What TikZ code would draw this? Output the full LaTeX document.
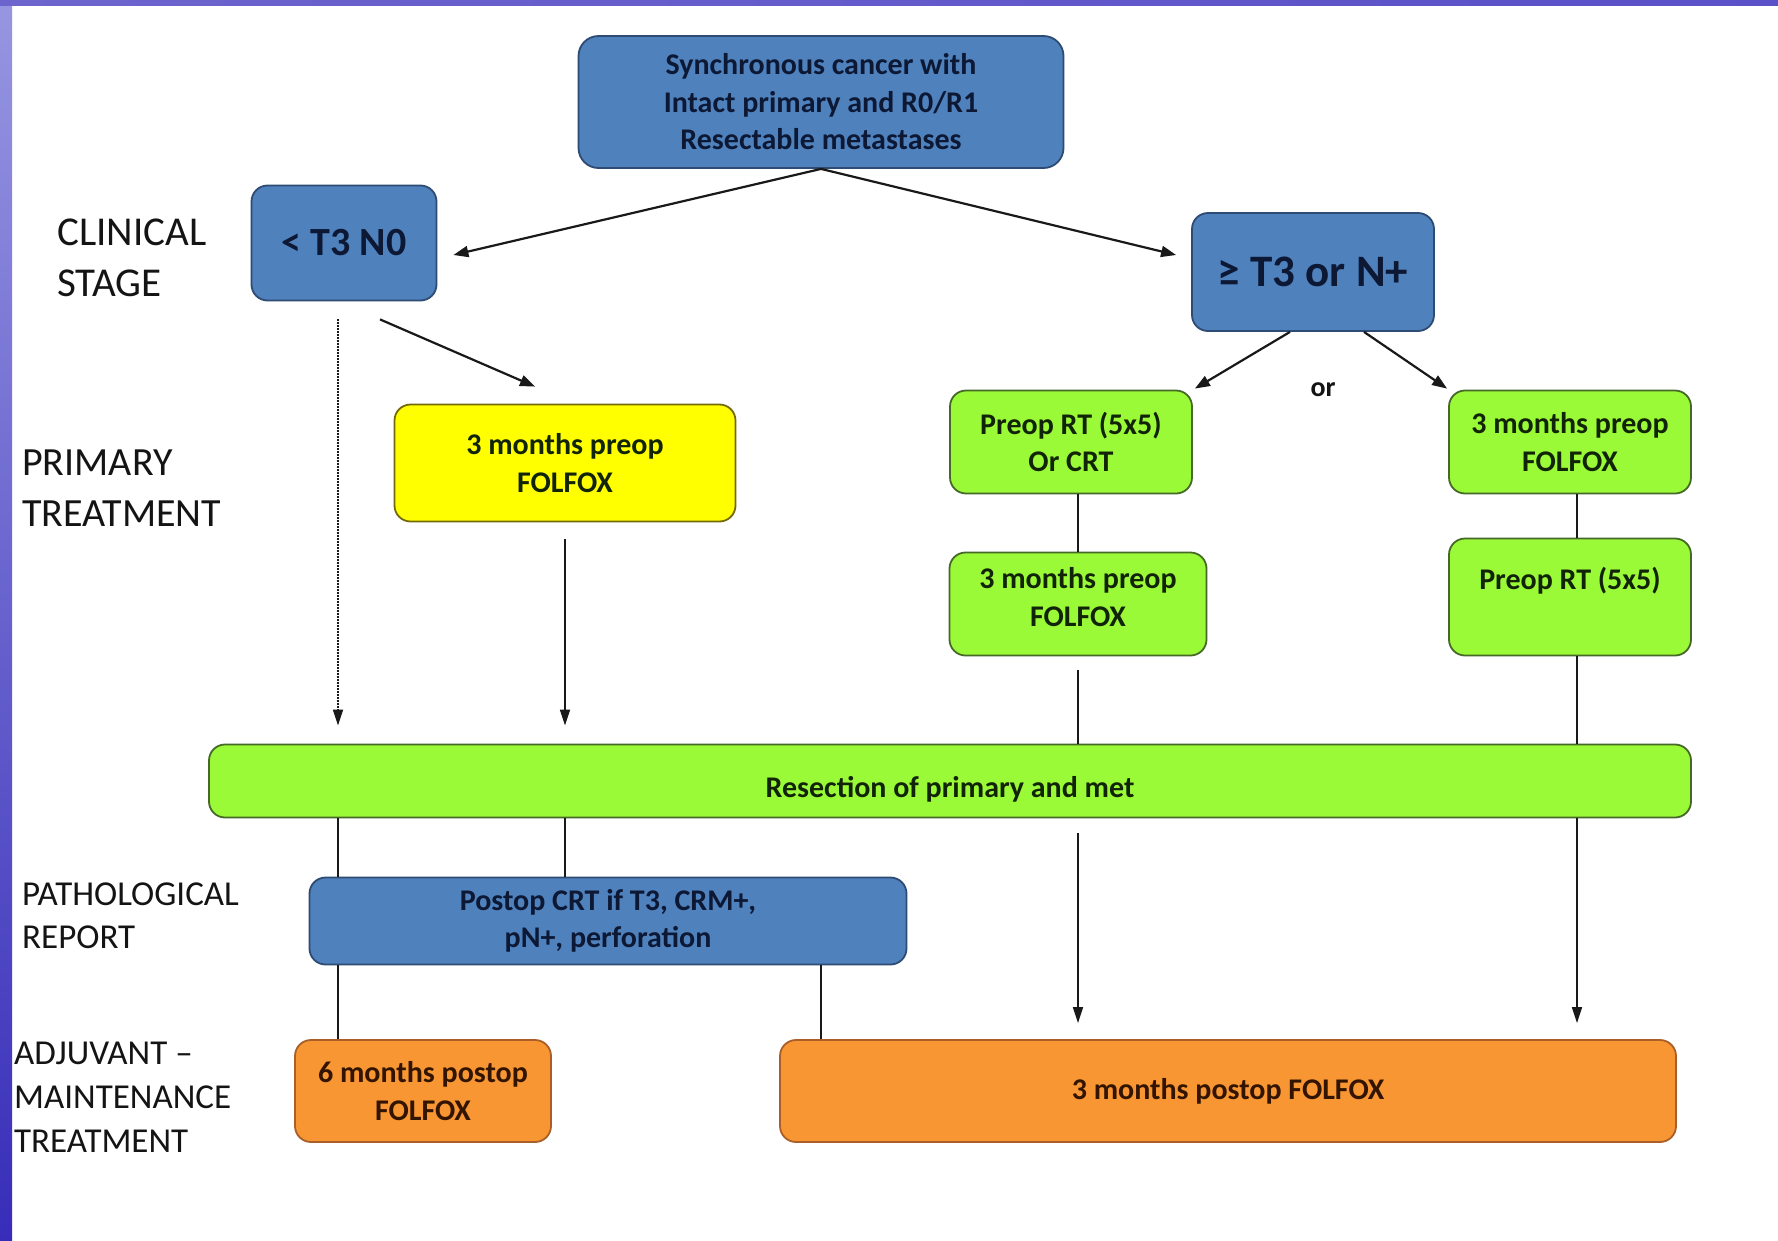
\documentclass[tikz,border=0pt]{standalone}
\usepackage{fontspec}
\setmainfont{Carlito}
\usetikzlibrary{arrows.meta,calc}
\definecolor{bfill}{RGB}{79,129,189}
\definecolor{bdraw}{RGB}{45,75,115}
\definecolor{btext}{RGB}{12,24,52}
\definecolor{gfill}{RGB}{155,250,55}
\definecolor{gdraw}{RGB}{70,105,40}
\definecolor{gtext}{RGB}{18,36,8}
\definecolor{yfill}{RGB}{255,255,0}
\definecolor{ydraw}{RGB}{115,105,10}
\definecolor{ofill}{RGB}{247,150,51}
\definecolor{odraw}{RGB}{170,95,40}
\definecolor{otext}{RGB}{50,20,0}
\definecolor{lbl}{RGB}{20,20,20}
\begin{document}
\begin{tikzpicture}[x=1pt,y=-1pt,
  boxbase/.style={draw, rounded corners=16pt, line width=1.8pt, align=center, inner sep=0pt,
    font=\bfseries\fontsize{30}{37.5}\selectfont},
  bluebox/.style={boxbase, fill=bfill, draw=bdraw, text=btext},
  greenbox/.style={boxbase, fill=gfill, draw=gdraw, text=gtext},
  yellowbox/.style={boxbase, fill=yfill, draw=ydraw, text=gtext},
  orangebox/.style={boxbase, fill=ofill, draw=odraw, text=otext},
  sidelbl/.style={anchor=west, align=left, inner sep=0pt, text=lbl},
  arr/.style={-{Triangle[length=15pt,width=11pt]}, line width=2.2pt, draw=black!90},
  varr/.style={-{Triangle[length=16pt,width=10pt]}, line width=1.6pt, draw=black!90},
  conn/.style={line width=1.6pt, draw=black!90},
  dotarr/.style={-{Triangle[length=16pt,width=10pt]}, line width=1.6pt, draw=black!90, dash pattern=on 1.5pt off 1.5pt}
]
\useasboundingbox (0,0) rectangle (1778,1240);
\fill[white] (0,0) rectangle (1778,1240);
\shade[top color={rgb,255:red,150;green,150;blue,225}, bottom color={rgb,255:red,55;green,45;blue,185}] (0,0) rectangle (12,1240);
\shade[left color={rgb,255:red,110;green,100;blue,205}, right color={rgb,255:red,90;green,80;blue,200}] (0,0) rectangle (1778,5);

% side labels
\node[sidelbl, font=\fontsize{41}{51}\selectfont] (lclin) at (57,258) {CLINICAL\\STAGE};
\node[sidelbl, font=\fontsize{40}{51}\selectfont] (lprim) at (22,488) {PRIMARY\\TREATMENT};
\node[sidelbl, font=\fontsize{35}{43}\selectfont] (lpath) at (22,916) {PATHOLOGICAL\\REPORT};
\node[sidelbl, font=\fontsize{35}{44}\selectfont] (ladj) at (14,1097) {ADJUVANT –\\MAINTENANCE\\TREATMENT};

% boxes
\node[bluebox, rounded corners=20pt, minimum width=485pt, minimum height=132pt] (top) at (821,102)
  {Synchronous cancer with\\Intact primary and R0/R1\\Resectable metastases};
\node[bluebox, minimum width=185pt, minimum height=115pt, font=\bfseries\fontsize{40}{48}\selectfont] (lt) at (344,243) {< T3 N0};
\node[bluebox, minimum width=242pt, minimum height=118pt, font=\bfseries\fontsize{45}{54}\selectfont] (rt) at (1313,272) {≥ T3 or N+};
\node[yellowbox, minimum width=341pt, minimum height=117pt] (yel) at (565,463) {3 months preop\\FOLFOX};
\node[greenbox, minimum width=242pt, minimum height=103pt] (p1) at (1071,442) {Preop RT (5x5)\\Or CRT};
\node[greenbox, minimum width=242pt, minimum height=103pt] (p2) at (1570,442) {3 months preop\\FOLFOX};
\node[greenbox, minimum width=257pt, minimum height=103pt] (m1) at (1078,604) {3 months preop\\FOLFOX\\[-23pt]\mbox{}};
\node[greenbox, minimum width=242pt, minimum height=117pt] (p3) at (1570,597) {Preop RT (5x5)\\~};
\node[greenbox, minimum width=1482pt, minimum height=73pt] (res) at (950,781) {\raisebox{-8pt}[\height][\depth]{Resection of primary and met}};
\node[bluebox, minimum width=597pt, minimum height=87pt] (pcrt) at (608,921) {Postop CRT if T3, CRM+,\\pN+, perforation};
\node[orangebox, minimum width=256pt, minimum height=102pt] (six) at (423,1091) {6 months postop\\FOLFOX};
\node[orangebox, minimum width=896pt, minimum height=102pt] (three) at (1228,1091) {3 months postop FOLFOX};
\node[font=\bfseries\fontsize{28}{32}\selectfont, text=lbl, inner sep=0pt] (or) at (1323,390) {or};

\coordinate (cx) at (338,0);

% connectors
\draw[arr] (top.south) -- ([xshift=16pt,yshift=-12pt]lt.east);
\draw[arr] (top.south) -- ([xshift=-15pt,yshift=17pt]rt.west);
\draw[dotarr] ([xshift=-6pt,yshift=-18pt]lt.south) -- ([xshift=-6pt,yshift=18pt]lt.south |- res.north);
\draw[arr] ([xshift=36pt,yshift=-18pt]lt.south) -- ([xshift=-30pt,yshift=17pt]yel.north);
\draw[varr] ([yshift=-17pt]yel.south) -- ([yshift=18pt]yel.south |- res.north);
\draw[arr] ([xshift=-23pt]rt.south) -- ([xshift=2pt,yshift=1pt]p1.north east);
\draw[arr] ([xshift=51pt]rt.south) -- ([xshift=-1pt,yshift=1pt]p2.north west);
\draw[conn] (m1.north |- p1.south) -- (m1.north);
\draw[conn] ([xshift=7pt]p2.south) -- ([xshift=7pt]p3.north);
\draw[conn] ([yshift=-14pt]m1.south) -- (m1.south |- res.north);
\draw[conn] ([xshift=7pt]p3.south) -- ([xshift=7pt]p3.south |- res.north);
\draw[conn] (cx |- res.south) -- (cx |- pcrt.north);
\draw[conn] (yel.south |- res.south) -- (yel.south |- pcrt.north);
\draw[conn] (cx |- pcrt.south) -- (cx |- six.north);
\draw[conn] (top.south |- pcrt.south) -- (top.south |- three.north);
\draw[varr] ([yshift=-15pt]m1.south |- res.south) -- ([yshift=16pt]m1.south |- three.north);
\draw[varr] ([xshift=7pt]p3.south |- res.south) -- ([xshift=7pt,yshift=16pt]p3.south |- three.north);
\end{tikzpicture}
\end{document}
